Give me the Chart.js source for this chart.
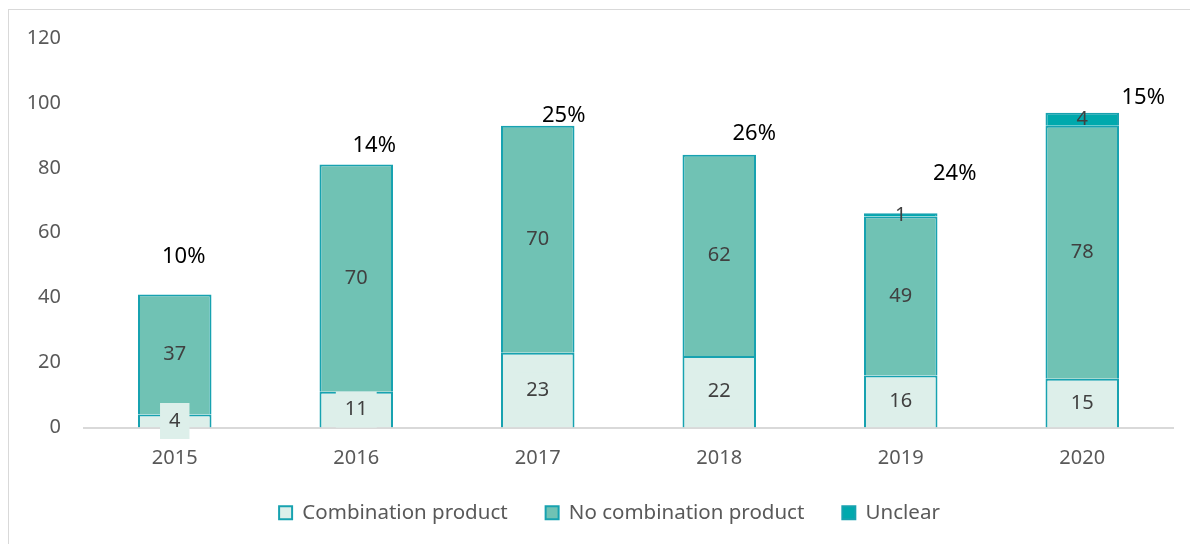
<!DOCTYPE html>
<html>
<head>
<meta charset="utf-8">
<script src="https://cdn.jsdelivr.net/npm/chart.js@4"></script>
<style>
    html, body { margin: 0; padding: 0; background: #fff; }
    #wrap { position: relative; width: 1190px; height: 544px; }
    #frame { position: absolute; left: 8px; top: 9px; width: 1200px; height: 560px; border: 1px solid #d9d9d9; box-sizing: border-box; }
    canvas { position: absolute; left: 0; top: 0; }
</style>
</head>
<body>
<div id="wrap">
    <div id="frame"></div>
    <canvas id="grafico"></canvas>
</div>
<script>
const years = ["2015", "2016", "2017", "2018", "2019", "2020"];
const combination = [4, 11, 23, 22, 16, 15];
const noCombination = [37, 70, 70, 62, 49, 78];
const unclear = [0, 0, 0, 0, 1, 4];
const shares = ["10%", "14%", "25%", "26%", "24%", "15%"];
const yTicks = [0, 20, 40, 60, 80, 100, 120];

// where the % labels sit, relative to the top of each bar (px)
const shareOffsets = [[9, -38], [18, -19], [26, -10], [35, -21], [54, -40], [61, -15]];

const font = "'Noto Sans', sans-serif";

const labelsPlugin = {
    id: "labels",
    afterLayout(chart) {
        // legend sits a bit right of the canvas centre
        chart.legend.left += 23;
        chart.legend.right += 23;
    },
    afterDatasetsDraw(chart) {
        const ctx = chart.ctx;
        ctx.save();
        ctx.font = "20px " + font;
        ctx.textAlign = "center";
        ctx.textBaseline = "middle";
        chart.data.datasets.forEach((ds, i) => {
            const meta = chart.getDatasetMeta(i);
            meta.data.forEach((bar, j) => {
                const v = ds.data[j];
                if (!v) return;
                const y = (bar.y + bar.base) / 2;
                const txt = String(v);
                if (i === 0) {
                    const w = ctx.measureText(txt).width + 18;
                    ctx.fillStyle = ds.backgroundColor;
                    ctx.fillRect(bar.x - w / 2, y - 18, w, 36);
                }
                ctx.fillStyle = "#404040";
                ctx.fillText(txt, bar.x, y);
            });
        });
        // share labels above the stacks
        const yScale = chart.scales.y;
        const xScale = chart.scales.x;
        ctx.font = "22px " + font;
        ctx.fillStyle = "#000";
        years.forEach((yr, j) => {
            const total = combination[j] + noCombination[j] + unclear[j];
            const x = xScale.getPixelForValue(j) + shareOffsets[j][0];
            const y = yScale.getPixelForValue(total) + shareOffsets[j][1];
            ctx.fillText(shares[j], x, y);
        });
        ctx.restore();
    }
};

new Chart(document.getElementById("grafico"), {
    type: "bar",
    data: {
        labels: years,
        datasets: [
            { label: "Combination product", data: combination, backgroundColor: "#ddefea", borderColor: "#17a2b0", borderWidth: 2 },
            { label: "No combination product", data: noCombination, backgroundColor: "#70c2b4", borderColor: "#17a2b0", borderWidth: 2 },
            { label: "Unclear", data: unclear, backgroundColor: "#00a9ad", borderColor: "#17a2b0", borderWidth: 2 }
        ]
    },
    options: {
        responsive: true,
        maintainAspectRatio: false,
        animation: false,
        events: [],
        layout: { padding: { top: 38, right: 17, bottom: 11, left: 0 } },
        datasets: { bar: { barPercentage: 0.5, categoryPercentage: 0.81 } },
        plugins: {
            tooltip: { enabled: false },
            legend: {
                position: "bottom",
                labels: {
                    color: "#595959",
                    font: { family: font, size: 20.5 },
                    boxWidth: 13,
                    boxHeight: 13,
                    padding: 38
                }
            }
        },
        scales: {
            x: {
                stacked: true,
                afterFit: (scale) => { scale.height = 37; },
                grid: { display: false, drawTicks: false },
                border: { display: true, color: "#d9d9d9", width: 2 },
                ticks: { color: "#595959", font: { family: font, size: 20 }, padding: 19 }
            },
            y: {
                stacked: true,
                min: 0,
                max: 120,
                afterBuildTicks: (scale) => { scale.ticks = yTicks.map(v => ({ value: v })); },
                afterFit: (scale) => { scale.width = 84; },
                grid: { display: false, drawTicks: false, tickLength: 0 },
                border: { display: false },
                ticks: { color: "#595959", font: { family: font, size: 20 }, padding: 23 }
            }
        }
    },
    plugins: [labelsPlugin]
});
</script>
</body>
</html>
